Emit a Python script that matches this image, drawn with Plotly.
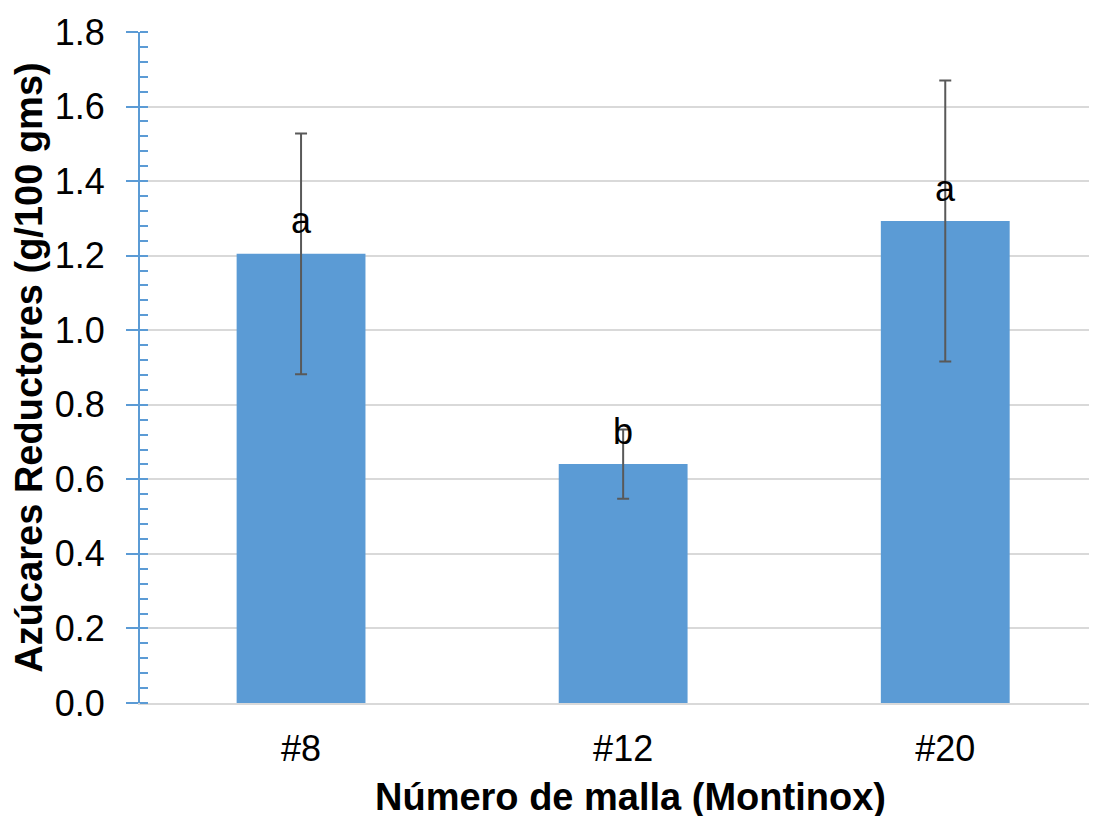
import plotly.graph_objects as go

categories = ["#8", "#12", "#20"]
values = [1.205, 0.641, 1.293]
errors = [0.323, 0.093, 0.377]
letters = ["a", "b", "a"]
y_ticks = [0.0, 0.2, 0.4, 0.6, 0.8, 1.0, 1.2, 1.4, 1.6, 1.8]

FONT = "Liberation Sans, Arial, sans-serif"

fig = go.Figure()
fig.add_trace(go.Bar(
    x=categories, y=values,
    marker=dict(color="#5B9BD5", line=dict(width=0)),
    width=0.4,
    error_y=dict(type="data", array=errors, visible=True,
                 color="#595959", thickness=2, width=6),
))
for c, v, l in zip(categories, values, letters):
    fig.add_annotation(x=c, y=v, text=l, showarrow=False, yshift=33,
                       font=dict(size=36, color="black", family=FONT))

# x-axis title placed as a paper-anchored annotation
fig.add_annotation(text="<b>Número de malla (Montinox)</b>", xref="paper", yref="paper",
                   x=0.5126, y=-0.140, xanchor="center", yanchor="middle", showarrow=False,
                   font=dict(size=38, color="black", family=FONT))

fig.update_layout(
    width=1097, height=816,
    margin=dict(l=132, r=9, t=24, b=121),
    plot_bgcolor="white", paper_bgcolor="white",
    showlegend=False,
    font=dict(family=FONT, color="black"),
    xaxis=dict(
        type="category", range=[-0.5, 2.468], automargin=False,
        showline=True, linecolor="#D9D9D9", linewidth=2,
        tickfont=dict(size=36), ticks="", ticklabelstandoff=13,
    ),
    yaxis=dict(
        range=[0, 1.8], tickvals=y_ticks, ticktext=[f"{t:.1f}" for t in y_ticks],
        automargin=False,
        showgrid=True, gridcolor="#D9D9D9", gridwidth=1.5,
        showline=True, linecolor="#5B9BD5", linewidth=2,
        ticks="outside", ticklen=12, tickcolor="#5B9BD5", tickwidth=2,
        ticklabelstandoff=14,
        minor=dict(dtick=0.04, ticks="inside", ticklen=8, tickcolor="#5B9BD5", tickwidth=2, showgrid=False),
        tickfont=dict(size=36),
        zeroline=False,
        title=dict(text="<b>Azúcares Reductores (g/100 gms)</b>", font=dict(size=38), standoff=3),
    ),
)
fig.write_html("out.html")
